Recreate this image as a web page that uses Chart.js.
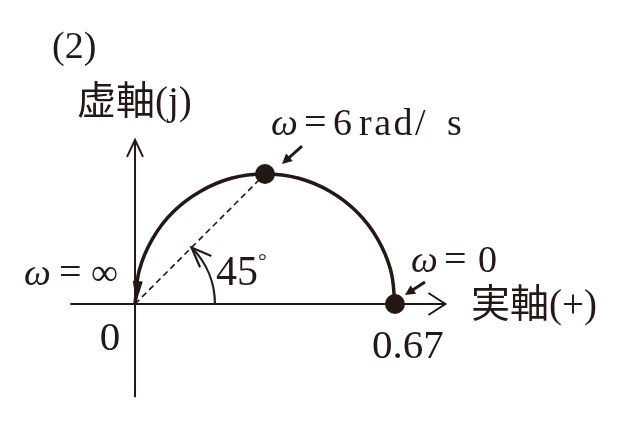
<!DOCTYPE html>
<html>
<head>
<meta charset="utf-8">
<script src="https://cdn.jsdelivr.net/npm/chart.js@4"></script>
<style>
  html, body { margin: 0; padding: 0; background: #fff; }
  #wrap { width: 628px; height: 422px; }
</style>
</head>
<body>
<div id="wrap"><canvas id="nyq" width="628" height="422"></canvas></div>
<script>
const locusRe = [0.670, 0.659, 0.625, 0.572, 0.503, 0.422, 0.335, 0.248, 0.168, 0.098, 0.045, 0.011, 0.000];
const locusIm = [0.000, 0.087, 0.168, 0.237, 0.290, 0.324, 0.335, 0.324, 0.290, 0.237, 0.168, 0.087, 0.000];
// marked points: omega = 0 and omega = 6 rad/s
const markRe = [0.670, 0.335];
const markIm = [0.000, 0.335];
const tickLabels = ['0', '0.67'];
const phaseDeg = 45;

const ink = '#231815';
const serif = "'Liberation Serif', 'DejaVu Serif', 'Noto Sans CJK JP', serif";

function arrowOpen(ctx, x, y, ang, len, half) {
  // open V arrowhead, tip at (x,y), pointing along ang
  const c = Math.cos(ang), s = Math.sin(ang);
  ctx.beginPath();
  ctx.moveTo(x - c * len - s * half, y - s * len + c * half);
  ctx.lineTo(x, y);
  ctx.lineTo(x - c * len + s * half, y - s * len - c * half);
  ctx.stroke();
}
function arrowFilled(ctx, x, y, ang, len, half) {
  const c = Math.cos(ang), s = Math.sin(ang);
  ctx.beginPath();
  ctx.moveTo(x, y);
  ctx.lineTo(x - c * len - s * half, y - s * len + c * half);
  ctx.lineTo(x - c * len + s * half, y - s * len - c * half);
  ctx.closePath();
  ctx.fill();
}
function runs(ctx, y, parts) {
  // parts: [text, x, italic, size, spacing]
  parts.forEach(p => {
    ctx.font = (p[2] ? 'italic ' : '') + p[3] + 'px ' + serif;
    ctx.letterSpacing = (p[4] || 0) + 'px';
    ctx.fillText(p[0], p[1], y);
  });
  ctx.letterSpacing = '0px';
}

const decor = {
  id: 'decor',
  beforeDatasetsDraw(chart) {
    const ctx = chart.ctx, xs = chart.scales.x, ys = chart.scales.y;
    const ox = xs.getPixelForValue(0), oy = ys.getPixelForValue(0);
    ctx.save();
    ctx.strokeStyle = ink; ctx.fillStyle = ink;
    ctx.lineWidth = 2;
    // real axis
    const xEnd = xs.getPixelForValue(0.8);
    ctx.beginPath();
    ctx.moveTo(xs.getPixelForValue(-0.167), oy);
    ctx.lineTo(xEnd, oy);
    ctx.stroke();
    arrowOpen(ctx, xEnd, oy, 0, 17, 11);
    // imaginary axis
    const yEnd = ys.getPixelForValue(0.423);
    ctx.beginPath();
    ctx.moveTo(ox, ys.getPixelForValue(-0.240));
    ctx.lineTo(ox, yEnd);
    ctx.stroke();
    arrowOpen(ctx, ox, yEnd, -Math.PI / 2, 17, 8);
    // dashed radius to omega = 6
    ctx.lineWidth = 1.6;
    ctx.setLineDash([6, 4]);
    ctx.beginPath();
    ctx.moveTo(ox, oy);
    ctx.lineTo(xs.getPixelForValue(markRe[1]), ys.getPixelForValue(markIm[1]));
    ctx.stroke();
    ctx.setLineDash([]);
    // phase angle arc
    const r = xs.getPixelForValue(0.206) - ox;
    const a = phaseDeg * Math.PI / 180;
    ctx.lineWidth = 2.2;
    ctx.beginPath();
    ctx.arc(ox, oy, r, 0, -a, true);
    ctx.stroke();
    const tx = ox + r * Math.cos(a), ty = oy - r * Math.sin(a);
    arrowOpen(ctx, tx, ty, Math.atan2(-Math.cos(a), -Math.sin(a)), 20, 8);
    ctx.restore();
  },
  afterDatasetsDraw(chart) {
    const ctx = chart.ctx, xs = chart.scales.x, ys = chart.scales.y;
    const ox = xs.getPixelForValue(0), oy = ys.getPixelForValue(0);
    ctx.save();
    ctx.strokeStyle = ink; ctx.fillStyle = ink;
    // arrowhead at the omega = inf end of the locus
    const n = locusRe.length;
    const px = xs.getPixelForValue(locusRe[n - 2] * 0.35), py = ys.getPixelForValue(locusIm[n - 2] * 0.55);
    arrowFilled(ctx, ox + 1, oy - 1, Math.atan2(oy - py, ox - px), 22, 5);
    // pointer arrows to the marked dots
    ctx.lineWidth = 3;
    [[30, -22, 10, -9], [37, -28, 17, -10]].forEach((o, i) => {
      const dx = xs.getPixelForValue(markRe[i]), dy = ys.getPixelForValue(markIm[i]);
      const x0 = dx + o[0], y0 = dy + o[1], x1 = dx + o[2], y1 = dy + o[3];
      const ang = Math.atan2(y1 - y0, x1 - x0);
      ctx.beginPath();
      ctx.moveTo(x0, y0);
      ctx.lineTo(x1 - Math.cos(ang) * 6, y1 - Math.sin(ang) * 6);
      ctx.stroke();
      arrowFilled(ctx, x1, y1, ang, 10, 5);
    });
    // texts
    ctx.textBaseline = 'alphabetic';
    ctx.textAlign = 'left';
    ctx.font = '38px ' + serif;
    ctx.fillText('(2)', 52, 58);
    ctx.font = '39px ' + serif;
    ctx.textBaseline = 'middle';
    ctx.fillText('虚軸(j)', 77, 104);
    ctx.fillText('実軸(+)', 471, 307);
    ctx.textBaseline = 'alphabetic';
    // omega = 6 rad/s
    const d6x = xs.getPixelForValue(markRe[1]), d6y = ys.getPixelForValue(markIm[1]);
    runs(ctx, d6y - 39, [['ω', d6x + 6, true, 38], ['=', d6x + 39, false, 40], ['6', d6x + 68, false, 38],
      ['rad/', d6x + 94, false, 38, 2.5], ['s', d6x + 182, false, 38]]);
    // omega = 0
    const d0x = xs.getPixelForValue(markRe[0]), d0y = ys.getPixelForValue(markIm[0]);
    runs(ctx, d0y - 32, [['ω', d0x + 16, true, 38], ['=', d0x + 49, false, 40], ['0', d0x + 83, false, 38]]);
    // omega = inf
    runs(ctx, oy - 19, [['ω', ox - 111, true, 38], ['=', ox - 76, false, 40], ['∞', ox - 44, false, 38]]);
    // angle label
    ctx.font = '42px ' + serif;
    ctx.fillText(phaseDeg + '', ox + 81, oy - 19);
    ctx.font = '22px ' + serif;
    ctx.fillText('°', ox + 123, oy - 36);
    // tick labels
    ctx.font = '41px ' + serif;
    ctx.textAlign = 'center';
    ctx.fillText(tickLabels[0], ox - 25, oy + 46);
    ctx.fillText(tickLabels[1], d0x + 13, d0y + 54);
    ctx.restore();
  }
};

new Chart(document.getElementById('nyq'), {
  type: 'scatter',
  data: {
    datasets: [
      {
        data: locusRe.map((v, i) => ({ x: v, y: locusIm[i] })),
        showLine: true,
        tension: 0.4,
        borderColor: ink,
        borderWidth: 3.5,
        pointRadius: 0,
        order: 2
      },
      {
        data: markRe.map((v, i) => ({ x: v, y: markIm[i] })),
        pointRadius: 10,
        pointBackgroundColor: ink,
        pointBorderWidth: 0,
        showLine: false,
        order: 1
      }
    ]
  },
  options: {
    responsive: false,
    animation: false,
    devicePixelRatio: 1,
    layout: { padding: 0, autoPadding: false },
    plugins: { legend: { display: false }, tooltip: { enabled: false } },
    scales: {
      x: { type: 'linear', min: -0.348, max: 1.2706, display: false },
      y: { type: 'linear', min: -0.3041, max: 0.7835, display: false }
    }
  },
  plugins: [decor]
});
</script>
</body>
</html>
